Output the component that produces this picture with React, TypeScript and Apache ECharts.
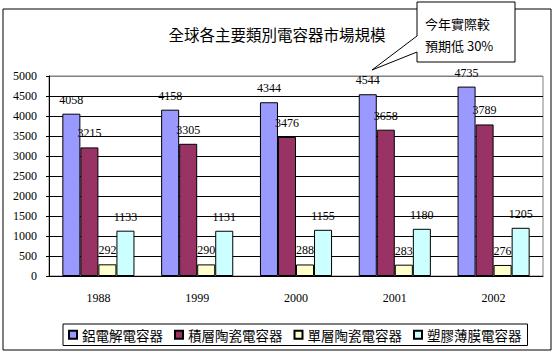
import React, { useEffect, useRef } from "react";
import * as echarts from "echarts";

const categories = ["1988", "1999", "2000", "2001", "2002"];
const seriesNames = ["鋁電解電容器", "積層陶瓷電容器", "單層陶瓷電容器", "塑膠薄膜電容器"];
const aluminum = [4058, 4158, 4344, 4544, 4735];
const multilayer = [3215, 3305, 3476, 3658, 3789];
const singleLayer = [292, 290, 288, 283, 276];
const film = [1133, 1131, 1155, 1180, 1205];
const seriesColors = ["#9999FF", "#993366", "#FFFFCC", "#CCFFFF"];
const titleText = "全球各主要類別電容器市場規模";
const calloutLines = ["今年實際較", "預期低 30%"];

const CJK = '"Noto Sans CJK TC", "Noto Sans CJK SC", sans-serif';
const SERIF = '"Liberation Serif", "DejaVu Serif", serif';

export default function App() {
  const ref = useRef<HTMLDivElement>(null);
  useEffect(() => {
    if (!ref.current) return;
    const chart = echarts.init(ref.current, undefined, { renderer: "svg" });
    const allData = [aluminum, multilayer, singleLayer, film];
    const gridColors = Array.from({ length: 11 }, (_, i) => (i === 10 ? "#808080" : "#000000"));
    chart.setOption({
      animation: false,
      backgroundColor: "#ffffff",
      title: {
        text: titleText,
        left: "center",
        top: 21,
        textStyle: { fontFamily: CJK, fontSize: 15.5, fontWeight: "normal", color: "#000" },
      },
      grid: {
        left: 49,
        top: 76,
        right: 11,
        bottom: 78,
        show: true,
        borderColor: "#808080",
        borderWidth: 1,
        backgroundColor: "transparent",
      },
      legend: {
        left: 63,
        top: 324,
        itemWidth: 8,
        itemHeight: 8,
        itemGap: 11,
        icon: "rect",
        borderColor: "#000",
        borderWidth: 1,
        padding: [4, 6, 4, 5],
        textStyle: { fontFamily: CJK, fontSize: 13.5, color: "#000" },
        data: seriesNames,
      },
      xAxis: {
        type: "category",
        data: categories,
        axisLine: { lineStyle: { color: "#000", width: 1 } },
        axisTick: { inside: true, length: 4, lineStyle: { color: "#000" } },
        axisLabel: { margin: 16, fontFamily: SERIF, fontSize: 12, color: "#000" },
      },
      yAxis: {
        type: "value",
        min: 0,
        max: 5000,
        interval: 500,
        axisLine: { show: true, lineStyle: { color: "#000", width: 1 } },
        axisTick: { show: true, length: 3, lineStyle: { color: "#000" } },
        axisLabel: {
          margin: 12,
          fontFamily: SERIF,
          fontSize: 12,
          color: "#000",
          formatter: (v: number) => String(v),
        },
        splitLine: { show: true, lineStyle: { color: gridColors, width: 1 } },
      },
      series: seriesNames.map((name, i) => ({
        name,
        type: "bar",
        data: allData[i],
        barGap: "0%",
        barCategoryGap: "27%",
        itemStyle: { color: seriesColors[i], borderColor: "#000", borderWidth: 1 },
        label: {
          show: true,
          position: "top",
          distance: 8,
          fontFamily: SERIF,
          fontSize: 12,
          color: "#000",
        },
      })),
      graphic: [
        {
          type: "rect",
          z: 0,
          silent: true,
          shape: { x: 3, y: 9, width: 548, height: 341 },
          style: { fill: "none", stroke: "#000", lineWidth: 1 },
        },
        {
          type: "polygon",
          z: 100,
          silent: true,
          shape: {
            points: [
              [417, 2],
              [515, 2],
              [515, 62],
              [417, 62],
              [417, 52],
              [372, 70],
              [417, 36],
            ],
          },
          style: { fill: "#fff", stroke: "#000", lineWidth: 1 },
        },
        {
          type: "text",
          z: 101,
          silent: true,
          x: 425,
          y: 23,
          style: {
            text: calloutLines[0],
            fontFamily: CJK,
            fontSize: 13,
            fill: "#000",
            verticalAlign: "middle",
          },
        },
        {
          type: "text",
          z: 101,
          silent: true,
          x: 425,
          y: 45,
          style: {
            text: calloutLines[1],
            fontFamily: CJK,
            fontSize: 13,
            fill: "#000",
            verticalAlign: "middle",
          },
        },
      ],
    });
    return () => chart.dispose();
  }, []);
  return (
    <div
      ref={ref}
      style={{ position: "fixed", left: 0, top: 0, width: 554, height: 354, background: "#fff" }}
    />
  );
}
